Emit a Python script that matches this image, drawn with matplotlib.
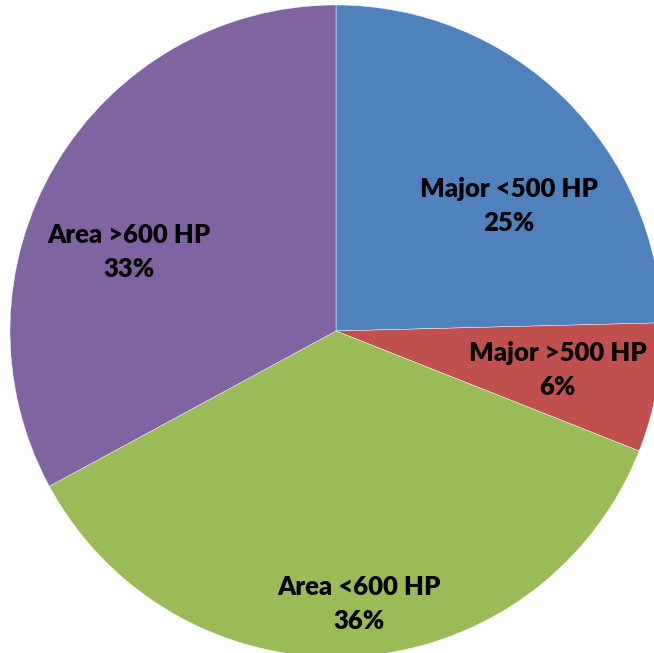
import numpy as np
import matplotlib
matplotlib.use("Agg")
from matplotlib import pyplot

categories = ["Major <500 HP", "Major >500 HP", "Area <600 HP", "Area >600 HP"]
shares = [24.6, 6.4, 36.1, 32.9]
colors = ["#4F81BD", "#C0504D", "#9BBB59", "#8064A2"]
# label placement per slice: (angle offset from wedge middle in degrees, radius)
label_place = [(-10.0, 0.655), (0.0, 0.69), (1.5, 0.84), (10.0, 0.68)]

fig = pyplot.figure(figsize=(6.54, 6.53), dpi=100)
cx, cy, r = 336, 331, 326
ax = fig.add_axes([(cx - r) / 654, (653 - cy - r) / 653, 2 * r / 654, 2 * r / 653])

wedges, _ = ax.pie(shares, colors=colors, startangle=90, counterclock=False,
                   wedgeprops=dict(edgecolor="white", linewidth=0.3))
for w in wedges:
    w.set_clip_on(False)
ax.set_xlim(-1, 1)
ax.set_ylim(-1, 1)
ax.set_aspect("auto")
ax.axis("off")

total = sum(shares)
for w, name, val, (off, dist) in zip(wedges, categories, shares, label_place):
    mid = np.deg2rad((w.theta1 + w.theta2) / 2 + off)
    ax.text(dist * np.cos(mid), dist * np.sin(mid), f"{name}\n{val / total * 100:.0f}%",
            ha="center", va="center", fontsize=18.5, fontweight="heavy",
            family="Lato", linespacing=1.5, color="black")

fig.savefig("out.png", dpi=100)
